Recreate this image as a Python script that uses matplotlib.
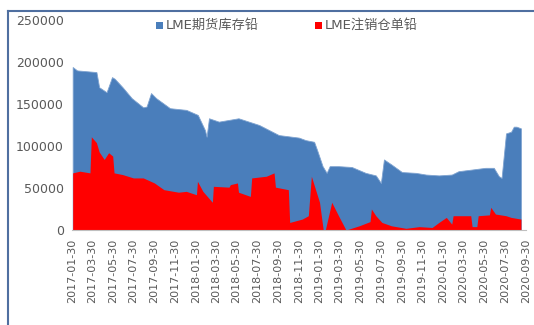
import matplotlib.pyplot as plt
import pandas as pd
from matplotlib.lines import Line2D
from matplotlib.patches import Rectangle

plt.rcParams['font.family'] = ['DejaVu Sans', 'Noto Sans CJK SC']

# LME 期货库存 (total stock)
stock_dates = ['2017-02-01', '2017-02-14', '2017-04-12', '2017-04-20', '2017-05-12', '2017-05-28',
               '2017-06-05', '2017-06-28', '2017-07-25', '2017-08-28', '2017-09-07', '2017-09-20',
               '2017-10-05', '2017-11-15', '2018-01-02', '2018-02-05', '2018-02-26', '2018-03-03',
               '2018-03-10', '2018-04-08', '2018-06-05', '2018-08-05', '2018-10-02', '2018-11-30',
               '2018-12-20', '2019-01-14', '2019-01-23', '2019-02-08', '2019-02-20', '2019-03-01',
               '2019-03-27', '2019-05-05', '2019-06-15', '2019-07-15', '2019-07-30', '2019-08-08',
               '2019-08-30', '2019-09-30', '2019-11-10', '2019-12-10', '2020-01-17', '2020-02-24',
               '2020-03-15', '2020-04-24', '2020-06-02', '2020-06-27', '2020-07-12', '2020-07-20',
               '2020-08-02', '2020-08-17', '2020-08-25', '2020-09-02', '2020-09-15']
stock_vals = [194000, 190000, 188000, 170000, 164000, 182000,
              180000, 170000, 157000, 146000, 147000, 163000,
              157000, 145000, 143000, 137000, 119000, 111000,
              133000, 129000, 133000, 125000, 113000, 110000,
              107000, 105000, 95000, 76000, 68000, 76000,
              76000, 75000, 68000, 65000, 56000, 84000,
              78000, 69000, 68000, 66000, 65000, 66000,
              70000, 72000, 74000, 74000, 64000, 62000,
              115000, 117000, 123000, 123000, 121000]

# LME 注销仓单 (cancelled warrants)
cw_dates = ['2017-02-01', '2017-02-22', '2017-03-24', '2017-03-28', '2017-04-12', '2017-04-20',
            '2017-05-05', '2017-05-18', '2017-05-30', '2017-06-03', '2017-06-28', '2017-07-30',
            '2017-08-28', '2017-09-30', '2017-10-28', '2017-12-10', '2018-01-02', '2018-02-01',
            '2018-02-04', '2018-02-20', '2018-03-20', '2018-03-23', '2018-05-08', '2018-05-12',
            '2018-06-02', '2018-06-05', '2018-07-10', '2018-07-14', '2018-08-26', '2018-09-18',
            '2018-09-22', '2018-10-30', '2018-11-03', '2018-12-10', '2018-12-28', '2019-01-06',
            '2019-01-30', '2019-02-10', '2019-02-16', '2019-03-07', '2019-03-27', '2019-04-18',
            '2019-05-27', '2019-06-28', '2019-07-02', '2019-07-15', '2019-08-02', '2019-08-30',
            '2019-10-12', '2019-11-20', '2019-12-28', '2020-01-17', '2020-02-08', '2020-02-24',
            '2020-02-28', '2020-04-20', '2020-04-24', '2020-05-08', '2020-05-12', '2020-06-14',
            '2020-06-18', '2020-07-02', '2020-08-02', '2020-08-17', '2020-09-15']
cw_vals = [68000, 70000, 68000, 111000, 104000, 93000,
           84000, 92000, 88000, 68000, 66000, 62000,
           62000, 56000, 48000, 45000, 46000, 42000,
           58000, 46000, 33000, 52000, 51000, 54000,
           56000, 45000, 40000, 62000, 64000, 68000,
           51000, 48000, 9000, 13000, 17000, 64000,
           33000, 0, 0, 33000, 17000, 0,
           5000, 10000, 25000, 17000, 9000, 5000,
           2000, 4000, 3000, 9000, 15000, 7000,
           17000, 17000, 4000, 4000, 17000, 18000,
           27000, 19000, 17000, 15000, 13000]

tick_labels = ['2017-01-30', '2017-03-30', '2017-05-30', '2017-07-30', '2017-09-30', '2017-11-30',
               '2018-01-30', '2018-03-30', '2018-05-30', '2018-07-30', '2018-09-30', '2018-11-30',
               '2019-01-30', '2019-03-30', '2019-05-30', '2019-07-30', '2019-09-30', '2019-11-30',
               '2020-01-30', '2020-03-30', '2020-05-30', '2020-07-30', '2020-09-30']

series_names = ['LME期货库存铅', 'LME注销仓单铅']
series_colors = ['#4A7EBB', '#FF0000']

sd = pd.to_datetime(stock_dates)
cd = pd.to_datetime(cw_dates)
td = pd.to_datetime(tick_labels)

W, H = 534, 325
fig = plt.figure(figsize=(W / 100, H / 100), dpi=100)
ax = fig.add_axes([72 / W, 1 - 230 / H, 454 / W, 210 / H])

ax.fill_between(sd, 0, stock_vals, facecolor=series_colors[0], edgecolor='#7FA3D0', linewidth=0.6)
ax.fill_between(cd, 0, cw_vals, color=series_colors[1], linewidth=0)

ax.set_ylim(0, 250000)
ax.set_yticks(range(0, 250001, 50000))
ax.set_xlim(td[0], td[-1])
ax.set_xticks(td)
ax.set_xticklabels(tick_labels, rotation=90)
ax.tick_params(axis='both', length=0, colors='#595959')
ax.tick_params(axis='x', pad=6, labelsize=8)
ax.tick_params(axis='y', pad=6, labelsize=9)
for s in ['top', 'right', 'left']:
    ax.spines[s].set_visible(False)
ax.spines['bottom'].set_color('#BFBFBF')

# legend drawn by hand so the two entries sit where the original has them
for name, col, x0 in zip(series_names, series_colors, [156, 315]):
    fig.add_artist(Rectangle((x0 / W, 1 - 28.5 / H), 7 / W, 7 / H, transform=fig.transFigure,
                             facecolor=col, edgecolor='none'))
    fig.text((x0 + 10) / W, 1 - 25 / H, name, fontsize=9.5, color='#595959', va='center')

# frame lines like the pasted screenshot
fig.add_artist(Line2D([8 / W, 1], [1 - 11 / H, 1 - 11 / H], color='#4F6FA0', lw=1.5))
fig.add_artist(Line2D([8 / W, 8 / W], [0, 1 - 11 / H], color='#4F6FA0', lw=1.5))

fig.savefig('out.png', dpi=100)
